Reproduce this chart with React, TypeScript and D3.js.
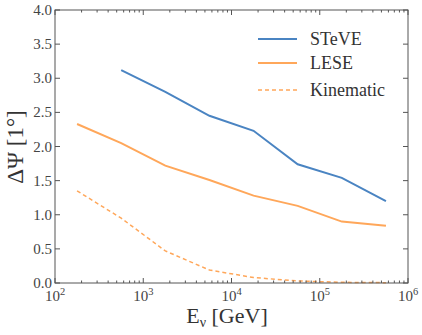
import React from "react";
import * as d3 from "d3";

const energies = [10 ** 2.25, 10 ** 2.75, 10 ** 3.25, 10 ** 3.75, 10 ** 4.25, 10 ** 4.75, 10 ** 5.25, 10 ** 5.75];
const steve = [null, 3.12, 2.80, 2.45, 2.23, 1.74, 1.54, 1.20];
const lese = [2.33, 2.05, 1.72, 1.51, 1.28, 1.13, 0.90, 0.84];
const kinematic = [1.35, 0.95, 0.47, 0.19, 0.08, 0.03, 0.01, 0.005];
const yTicks = [0, 0.5, 1.0, 1.5, 2.0, 2.5, 3.0, 3.5, 4.0];
const xDecades = [2, 3, 4, 5, 6];
const seriesNames = ["STeVE", "LESE", "Kinematic"];

const BLUE = "#4a84c2";
const ORANGE = "#ffa75a";

export default function App() {
  const W = 422, H = 335;
  const L = 55, R = 408, T = 10, B = 283;
  const x = d3.scaleLog().domain([1e2, 1e6]).range([L, R]);
  const y = d3.scaleLinear().domain([0, 4]).range([B, T]);
  const font = "'Liberation Serif', serif";

  const line = d3.line<[number, number | null]>()
    .defined((d) => d[1] !== null)
    .x((d) => x(d[0]))
    .y((d) => y(d[1] as number));

  const mk = (vals: (number | null)[]) => line(energies.map((e, i) => [e, vals[i]]));

  const minor: number[] = [];
  for (let dcd = 2; dcd < 6; dcd++) for (let k = 2; k <= 9; k++) minor.push(k * 10 ** dcd);

  const axisColor = "#555";
  const majorLen = 5, minorLen = 2.5;

  return (
    <svg width={W} height={H} style={{ position: "absolute", left: 0, top: 0, fontFamily: font }}>
      <rect x={0} y={0} width={W} height={H} fill="white" />
      <path d={mk(steve) || ""} fill="none" stroke={BLUE} strokeWidth={2} />
      <path d={mk(lese) || ""} fill="none" stroke={ORANGE} strokeWidth={2} />
      <path d={mk(kinematic) || ""} fill="none" stroke={ORANGE} strokeWidth={1.5} strokeDasharray="4,3" />
      <rect x={L} y={T} width={R - L} height={B - T} fill="none" stroke={axisColor} strokeWidth={1} />
      {yTicks.map((v) => (
        <g key={"y" + v}>
          <line x1={L} x2={L + majorLen} y1={y(v)} y2={y(v)} stroke={axisColor} />
          <line x1={R} x2={R - majorLen} y1={y(v)} y2={y(v)} stroke={axisColor} />
          <text x={L - 3} y={y(v) + 5} textAnchor="end" fontSize={15} fill="#444">
            {v.toFixed(1)}
          </text>
        </g>
      ))}
      {xDecades.map((dcd) => (
        <g key={"x" + dcd}>
          <line x1={x(10 ** dcd)} x2={x(10 ** dcd)} y1={B} y2={B - majorLen} stroke={axisColor} />
          <line x1={x(10 ** dcd)} x2={x(10 ** dcd)} y1={T} y2={T + majorLen} stroke={axisColor} />
          <text x={x(10 ** dcd)} y={B + 18} textAnchor="middle" fontSize={15} fill="#444">
            10<tspan dy={-6} fontSize={10.5}>{dcd}</tspan>
          </text>
        </g>
      ))}
      {minor.map((v) => (
        <g key={"m" + v}>
          <line x1={x(v)} x2={x(v)} y1={B} y2={B - minorLen} stroke={axisColor} />
          <line x1={x(v)} x2={x(v)} y1={T} y2={T + minorLen} stroke={axisColor} />
        </g>
      ))}
      <text x={227} y={323} textAnchor="middle" fontSize={22} fill="#333">
        E<tspan dy={4} fontSize={14}>ν</tspan><tspan dy={-4}> [GeV]</tspan>
      </text>
      <text transform={`translate(23, 147) rotate(-90)`} textAnchor="middle" fontSize={23} fill="#333">
        ΔΨ [1°]
      </text>
      {seriesNames.map((n, i) => {
        const ly = [39, 63, 90][i];
        return (
          <g key={n}>
            <line x1={258} x2={297} y1={ly} y2={ly} stroke={i === 0 ? BLUE : ORANGE}
              strokeWidth={i === 2 ? 1.5 : 2} strokeDasharray={i === 2 ? "4,3" : undefined} />
            <text x={310} y={ly + 6} fontSize={18} fill="#333">{n}</text>
          </g>
        );
      })}
    </svg>
  );
}
